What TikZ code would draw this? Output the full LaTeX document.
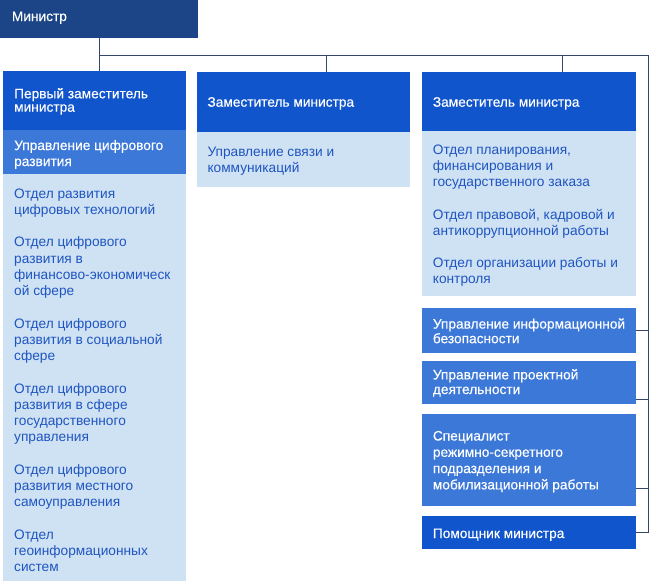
\documentclass[tikz,border=0pt]{standalone}
\usepackage{fontspec}
\setmainfont{Liberation Sans}
\newfontfamily\medfont[FakeBold=0.35]{Liberation Sans}
\definecolor{navy}{HTML}{1C4587}
\definecolor{head}{HTML}{1155CC}
\definecolor{mid}{HTML}{3C78D8}
\definecolor{pale}{HTML}{CFE2F3}
\definecolor{ptext}{HTML}{1F55C2}
\definecolor{wire}{HTML}{34466A}
\newcommand\wfont[1]{\medfont\fontsize{13.7}{#1}\selectfont}
\newcommand\pfont[1]{\fontsize{13.7}{#1}\selectfont}
\tikzset{
  boxshape/.style={draw=none, inner sep=0pt, outer sep=0pt, anchor=north west},
  wtext/.style={anchor=base west, inner sep=0pt, align=left, text=white, font=\wfont{15.8}},
  ptxt/.style={anchor=base west, inner sep=0pt, align=left, text=ptext, font=\pfont{16.2}},
  wireline/.style={draw=wire, line width=0.9pt}
}
\begin{document}
\lineskiplimit=-20pt
\begin{tikzpicture}[x=1pt,y=-1pt]
\useasboundingbox (0,0) rectangle (658,581);
% boxes
\node[boxshape, fill=navy, minimum width=198pt, minimum height=37.5pt] (min) at (0,0) {};
\node[boxshape, fill=head, minimum width=183pt, minimum height=59.5pt] (fd) at (3,70.7) {};
\node[boxshape, fill=mid, minimum width=183pt, minimum height=44pt] (ucr) at (3,130) {};
\node[boxshape, fill=pale, minimum width=183pt, minimum height=407pt] (lp) at (3,174) {};
\node[boxshape, fill=head, minimum width=213pt, minimum height=60pt] (z2) at (197,71.7) {};
\node[boxshape, fill=pale, minimum width=213pt, minimum height=55pt] (p2) at (197,131.7) {};
\node[boxshape, fill=head, minimum width=214pt, minimum height=58.5pt] (z3) at (421.7,72.3) {};
\node[boxshape, fill=pale, minimum width=214pt, minimum height=165pt] (p3) at (421.7,130.7) {};
\node[boxshape, fill=mid, minimum width=214pt, minimum height=45pt] (uib) at (421.7,307.7) {};
\node[boxshape, fill=mid, minimum width=214pt, minimum height=43.3pt] (upd) at (421.7,360.7) {};
\node[boxshape, fill=mid, minimum width=214pt, minimum height=91.7pt] (spc) at (421.7,414) {};
\node[boxshape, fill=head, minimum width=214pt, minimum height=33.3pt] (pm) at (421.7,516) {};
% connectors
\coordinate (hr) at (648,55);
\coordinate (c2) at (326.5,55);
\coordinate (c3) at (562,55);
\draw[wireline] (min.south) -- (min.south |- fd.north);
\draw[wireline] (min.south |- hr) -- (hr) -- (hr |- pm.east) -- (pm.east);
\draw[wireline] (c2) -- (c2 |- z2.north);
\draw[wireline] (c3) -- (c3 |- z3.north);
\draw[wireline] (uib.east) -- (uib.east -| hr);
\draw[wireline] ([yshift=5pt]upd.south east) -- ([yshift=5pt]upd.south east -| hr);
\draw[wireline] ([yshift=17.4pt]spc.south east) -- ([yshift=17.4pt]spc.south east -| hr);
% texts (anchor = baseline of last line)
\node[wtext] (tmin) at (11.7,21) {Министр};
\node[wtext, font=\wfont{13.4}] (tfd) at (14,111.7) {Первый заместитель\\министра};
\node[wtext, font=\wfont{16}] (tucr) at (14,166) {Управление цифрового\\развития};
\node[ptxt] (l1) at (14,214.2) {Отдел развития\\цифровых технологий};
\node[ptxt] (l2) at (14,295.5) {Отдел цифрового\\развития в\\финансово-экономическ\\ой сфере};
\node[ptxt] (l3) at (14,360.6) {Отдел цифрового\\развития в социальной\\сфере};
\node[ptxt] (l4) at (14,441.9) {Отдел цифрового\\развития в сфере\\государственного\\управления};
\node[ptxt] (l5) at (14,506.8) {Отдел цифрового\\развития местного\\самоуправления};
\node[ptxt] (l6) at (14,571.9) {Отдел\\геоинформационных\\систем};
\node[wtext] (tz2) at (207.3,106.7) {Заместитель министра};
\node[ptxt, font=\pfont{15.8}] (tp2) at (207.3,172.3) {Управление связи и\\коммуникаций};
\node[wtext] (tz3) at (432.7,106.7) {Заместитель министра};
\node[ptxt] (r1) at (432.7,186.4) {Отдел планирования,\\финансирования и\\государственного заказа};
\node[ptxt] (r2) at (432.7,235.2) {Отдел правовой, кадровой и\\антикоррупционной работы};
\node[ptxt] (r3) at (432.7,283.4) {Отдел организации работы и\\контроля};
\node[wtext, font=\wfont{14.6}] (tuib) at (432.7,343.2) {Управление информационной\\безопасности};
\node[wtext, font=\wfont{14.6}] (tupd) at (432.7,394) {Управление проектной\\деятельности};
\node[wtext, font=\wfont{16.3}] (tspc) at (432.7,489.4) {Специалист\\режимно-секретного\\подразделения и\\мобилизационной работы};
\node[wtext] (tpm) at (432.7,538) {Помощник министра};
\end{tikzpicture}
\end{document}
